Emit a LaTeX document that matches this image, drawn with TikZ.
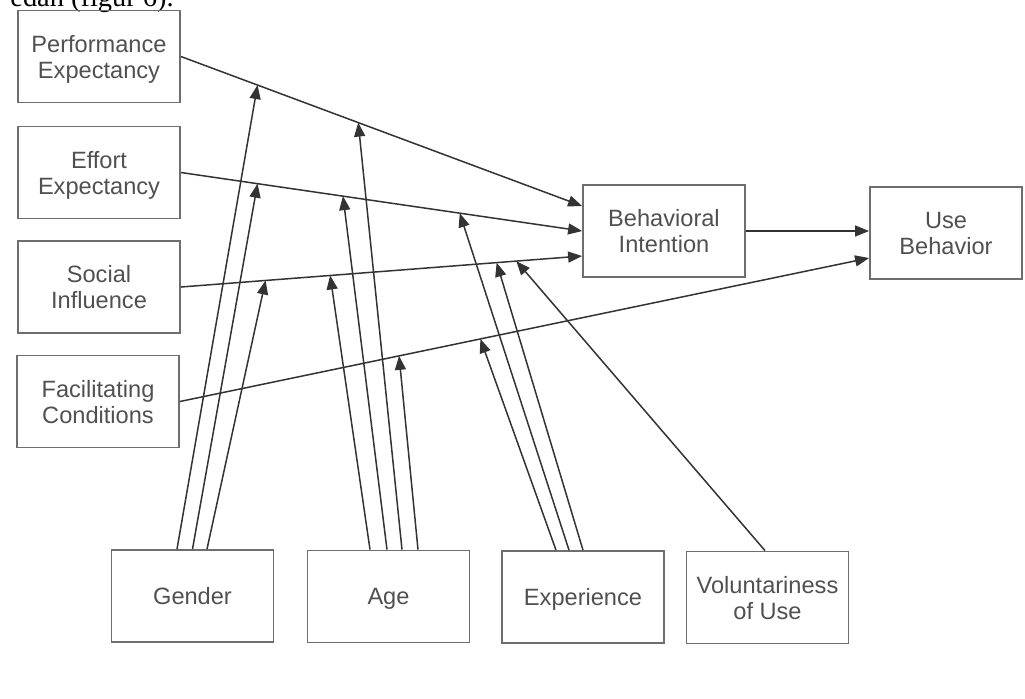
\documentclass[tikz,border=0pt]{standalone}
\usepackage{fontspec}
\setmainfont{Liberation Sans}
\newfontfamily\pageserif{Liberation Serif}
\usetikzlibrary{arrows.meta,positioning,calc}
\definecolor{boxline}{HTML}{6E6E6E}
\definecolor{labelgrey}{HTML}{505050}
\definecolor{edgegrey}{HTML}{333333}
\tikzset{
    construct/.style={draw=boxline, line width=0.9pt, minimum width=81pt, minimum height=46pt,
        inner sep=0pt, align=center, text=labelgrey, text depth=0pt,
        font=\fontsize{11.8}{13}\selectfont},
    link/.style={draw=edgegrey, line width=0.75pt, -{Triangle[length=7pt,width=5.5pt]}}
}

\begin{document}
\begin{tikzpicture}[x=0.5pt, y=-0.5pt]
    \useasboundingbox (0,0) rectangle (1025,698);

    % Line of running text cut off at the top
    \begin{scope}
        \clip (0,0) rectangle (1025,698);
        \node[anchor=base west, inner sep=0pt, font=\pageserif\fontsize{14.2}{16}\selectfont] (caption) at (10,6) {edan (figur 6).};
    \end{scope}

    % Constructs (left column)
    \node[construct] (pe) at (99,56.5) {Performance\\Expectancy};
    \node[construct] (ee) at (99,172.5) {Effort\\Expectancy};
    \node[construct] (si) at (99,287) {Social\\Influence};
    \node[construct] (fc) at (98,401.5) {Facilitating\\Conditions};

    % Intention and use
    \node[construct] (bi) at (664,231) {Behavioral\\Intention};
    \node[construct, minimum width=76pt] (ub) at (946,233) {Use\\Behavior};

    % Moderators (bottom row)
    \node[construct] (gen) at (192.5,596) {Gender};
    \node[construct] (age) at (388.5,596.5) {Age};
    \node[construct] (exp) at (583,597) {Experience};
    \node[construct] (vol) at (767.5,597.5) {Voluntariness\\of Use};

    % Entry points
    \coordinate (bi-pe) at ([yshift=12.5pt]bi.west);
    \coordinate (bi-si) at ([yshift=-12.5pt]bi.west);
    \coordinate (ub-fc) at ([yshift=-12.5pt]ub.west);

    % Main paths, with the points the moderators point at
    \draw[link] (pe.east) -- (bi-pe)
        coordinate[pos=0.191] (pe-gen) coordinate[pos=0.442] (pe-age);
    \draw[link] (ee.east) -- (bi.west)
        coordinate[pos=0.191] (ee-gen) coordinate[pos=0.404] (ee-age) coordinate[pos=0.695] (ee-exp);
    \draw[link] (si.east) -- (bi-si)
        coordinate[pos=0.211] (si-gen) coordinate[pos=0.372] (si-age)
        coordinate[pos=0.787] (si-exp) coordinate[pos=0.836] (si-vol);
    \draw[link] (fc.east) -- (ub-fc)
        coordinate[pos=0.318] (fc-age) coordinate[pos=0.436] (fc-exp);
    \draw[link] (bi.east) -- (bi.east -| ub.west);

    % Gender
    \draw[link] ([xshift=-7.75pt]gen.north) -- (pe-gen);
    \draw[link] (gen.north) -- (ee-gen);
    \draw[link] ([xshift=7.25pt]gen.north) -- (si-gen);

    % Age
    \draw[link] ([xshift=-9.25pt]age.north) -- (si-age);
    \draw[link] ([xshift=-0.75pt]age.north) -- (ee-age);
    \draw[link] ([xshift=6.75pt]age.north) -- (pe-age);
    \draw[link] ([xshift=14.75pt]age.north) -- (fc-age);

    % Experience
    \draw[link] ([xshift=-13.5pt]exp.north) -- (fc-exp);
    \draw[link] ([xshift=-7pt]exp.north) -- (ee-exp);
    \draw[link] (exp.north) -- (si-exp);

    % Voluntariness of use
    \draw[link] ([xshift=-1.25pt]vol.north) -- (si-vol);
\end{tikzpicture}
\end{document}
